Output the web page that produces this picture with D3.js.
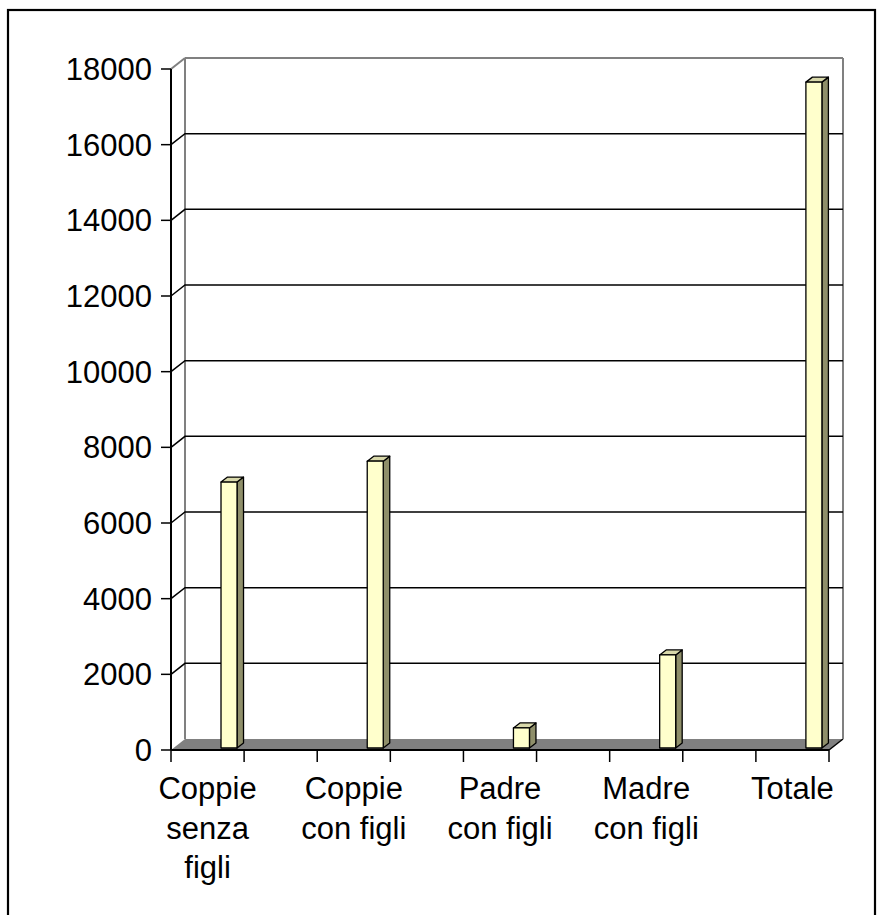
<!DOCTYPE html>
<html><head><meta charset="utf-8">
<script src="https://cdn.jsdelivr.net/npm/d3@7"></script>
<style>body{margin:0;background:#fff}svg{display:block}</style>
</head><body>
<svg id="c" width="882" height="915"></svg>
<script>
// ---- data ----
const categories = ["Coppie senza figli", "Coppie con figli", "Padre con figli", "Madre con figli", "Totale"];
const labelLines = [["Coppie", "senza", "figli"], ["Coppie", "con figli"], ["Padre", "con figli"], ["Madre", "con figli"], ["Totale"]];
const values = [7030, 7580, 530, 2460, 17600];
const yTicks = [0, 2000, 4000, 6000, 8000, 10000, 12000, 14000, 16000, 18000];
const slotCount = 9; // category axis has 9 tick intervals; labels on every other one

(function () {
// ---- layout ----
const svg = d3.select("#c");
const font = "'Liberation Sans', Arial, sans-serif";
const fs = 31;
const pl = 171, pr = 829, pb = 750, pt = 69;
const DX = 14, DY = 11;        // wall depth
const bdx = 6.5, bdy = 5;      // bar depth
const boff = 2;                // bar front offset into depth

const y = d3.scaleLinear().domain([0, 18000]).range([pb, pt]);
const x = d3.scaleBand().domain(d3.range(slotCount)).range([pl, pr]).paddingInner(0).paddingOuter(0);
const bw = x.bandwidth();

// outer frame
svg.append("rect").attr("x", 8).attr("y", 10).attr("width", 867).attr("height", 910)
  .attr("fill", "none").attr("stroke", "#000").attr("stroke-width", 2.2);

// floor
svg.append("path")
  .attr("d", `M${pl},${pb}L${pr},${pb}L${pr + DX},${pb - DY}L${pl + DX},${pb - DY}Z`)
  .attr("fill", "#808080").attr("stroke", "none");
svg.append("line").attr("x1", pr).attr("y1", pb).attr("x2", pr + DX).attr("y2", pb - DY)
  .attr("stroke", "#000").attr("stroke-width", 1.5);

// walls outline (gray)
const g = svg.append("g").attr("fill", "none").attr("stroke", "#808080").attr("stroke-width", 2);
g.append("line").attr("x1", pl + DX).attr("x2", pl + DX).attr("y1", y(18000) - DY).attr("y2", pb - DY);
g.append("line").attr("x1", pr + DX).attr("x2", pr + DX).attr("y1", y(18000) - DY).attr("y2", pb - DY);
g.append("line").attr("x1", pl + DX).attr("x2", pr + DX).attr("y1", y(18000) - DY).attr("y2", y(18000) - DY);
g.append("line").attr("x1", pl).attr("x2", pl + DX).attr("y1", y(18000)).attr("y2", y(18000) - DY);

// gridlines (black)
const grid = svg.append("g").attr("stroke", "#000").attr("stroke-width", 1.5).attr("fill", "none");
yTicks.filter(t => t > 0 && t < 18000).forEach(t => {
  grid.append("path").attr("d", `M${pl},${y(t)}L${pl + DX},${y(t) - DY}L${pr + DX},${y(t) - DY}`);
});

// y axis
const yAxis = svg.append("g");
yAxis.append("line").attr("x1", pl).attr("x2", pl).attr("y1", y(18000)).attr("y2", pb)
  .attr("stroke", "#000").attr("stroke-width", 2);
yTicks.forEach(t => {
  yAxis.append("line").attr("x1", pl - 10).attr("x2", pl).attr("y1", y(t)).attr("y2", y(t))
    .attr("stroke", "#000").attr("stroke-width", 1.5);
  yAxis.append("text").attr("x", pl - 19).attr("y", y(t)).attr("dy", "0.36em")
    .attr("text-anchor", "end").attr("font-family", font).attr("font-size", fs).text(t);
});

// x axis
const xAxis = svg.append("g");
xAxis.append("line").attr("x1", pl).attr("x2", pr).attr("y1", pb).attr("y2", pb)
  .attr("stroke", "#000").attr("stroke-width", 2);
d3.range(slotCount + 1).forEach(i => {
  const xx = i < slotCount ? x(i) : pr;
  xAxis.append("line").attr("x1", xx).attr("x2", xx).attr("y1", pb).attr("y2", pb + 12)
    .attr("stroke", "#000").attr("stroke-width", 1.5);
});
categories.forEach((c, i) => {
  const cx = x(i * 2) + bw / 2;
  const t = xAxis.append("text").attr("text-anchor", "middle").attr("font-family", font).attr("font-size", fs);
  labelLines[i].forEach((ln, k) => {
    t.append("tspan").attr("x", cx).attr("y", 799 + k * 39.5).text(ln);
  });
});

// bars
const bars = svg.append("g").attr("stroke", "#000").attr("stroke-width", 1.3).attr("stroke-linejoin", "round");
values.forEach((v, i) => {
  const x0 = x(i * 2) + bw * 0.684;
  const x1 = x0 + bw * 0.219;
  const yt = y(v) - boff, yb = y(0) - boff;
  bars.append("path").attr("d", `M${x1},${yb}L${x1 + bdx},${yb - bdy}L${x1 + bdx},${yt - bdy}L${x1},${yt}Z`)
    .attr("fill", "#8f8f6a");
  bars.append("path").attr("d", `M${x0},${yt}L${x0 + bdx},${yt - bdy}L${x1 + bdx},${yt - bdy}L${x1},${yt}Z`)
    .attr("fill", "#d8d8aa");
  bars.append("rect").attr("x", x0).attr("y", yt).attr("width", x1 - x0).attr("height", yb - yt)
    .attr("fill", "#ffffcc");
});
})();
</script>
</body></html>
